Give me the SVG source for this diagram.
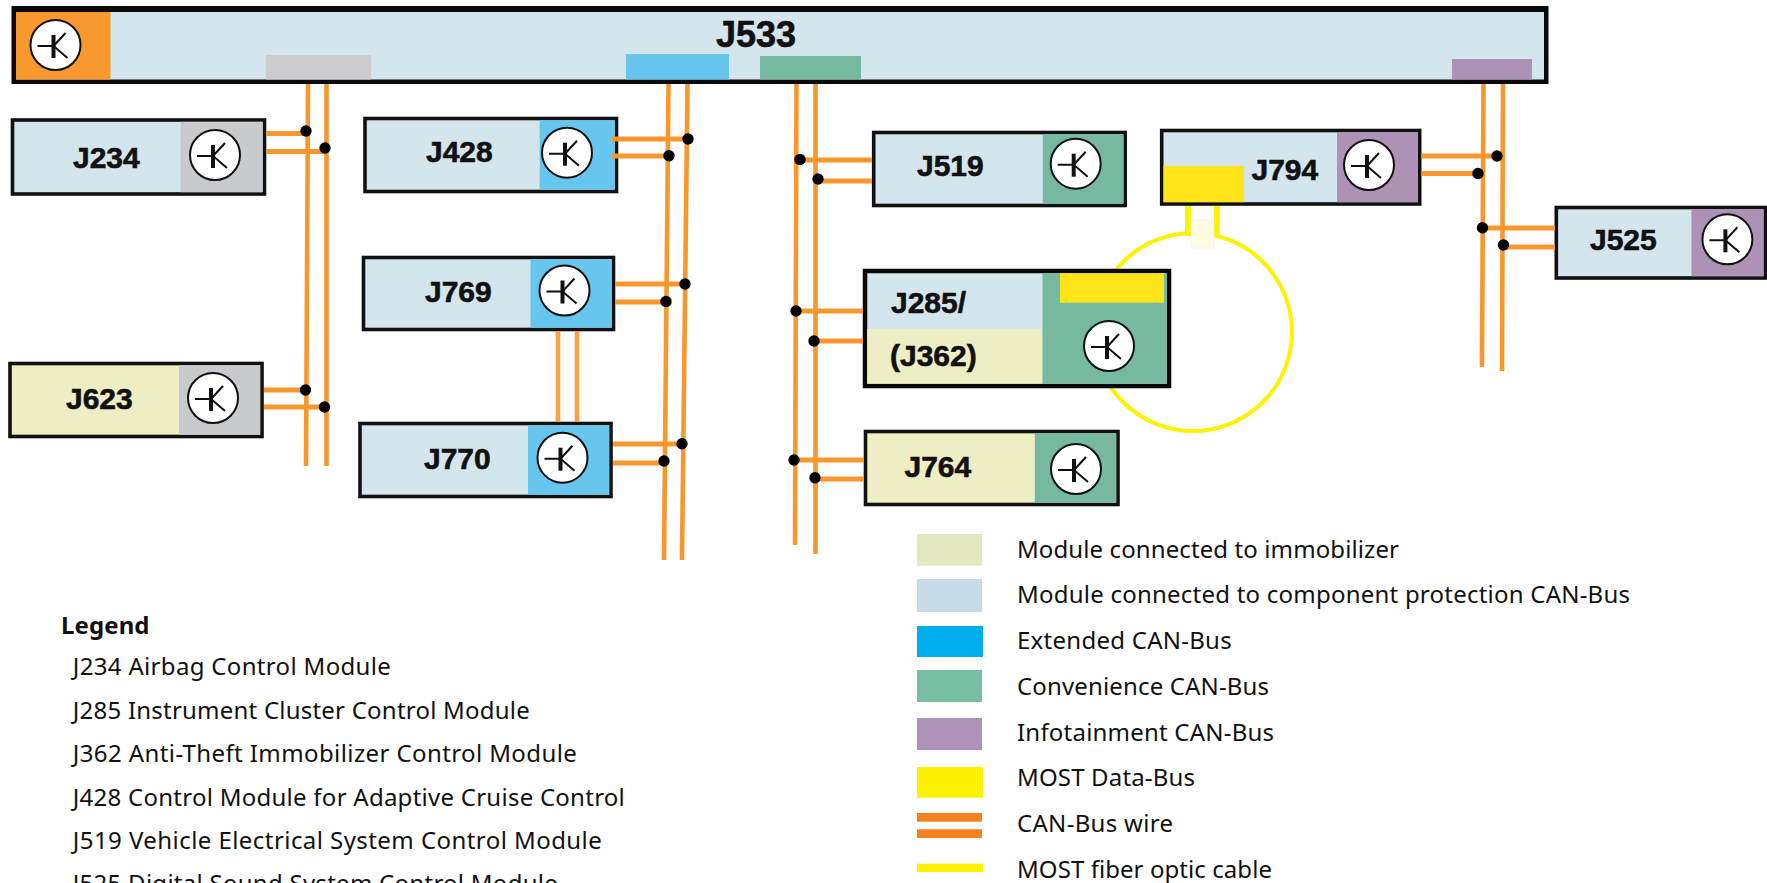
<svg xmlns="http://www.w3.org/2000/svg" width="1767" height="883" viewBox="0 0 1767 883">
<style>
.box{stroke:#111;stroke-width:3.6}
.prot{fill:#d4e5ee}
.imm{fill:#eeeec4}
.gray{fill:#c9cace}
.blue{fill:#67c6ee}
.green{fill:#76b8a0}
.purple{fill:#ad92b6}
.most{fill:#ffe419}
.wire{stroke:#f9972f;stroke-width:4.6;fill:none}
.stub{stroke:#f9972f;stroke-width:5;fill:none}
.lab{font-family:"Liberation Sans",Arial,sans-serif;font-weight:700;font-size:30px;fill:#111;stroke:#111;stroke-width:0.6}
.leg{font-family:"Noto Sans","Open Sans",sans-serif;font-size:24px;fill:#111}
</style>
<defs>
<g id="sym">
<circle r="25" fill="#fff" stroke="#111" stroke-width="2"/>
<path d="M-18 1H-2M10 -12L-2 1L12 13" fill="none" stroke="#111" stroke-width="2"/>
<path d="M-2 -10V13" fill="none" stroke="#111" stroke-width="4"/>
</g>
</defs>
<rect width="1767" height="883" fill="#fff"/>
<g id="fiber-ring">
<circle cx="1193" cy="332" r="99" fill="none" stroke="#fff200" stroke-width="4"/>
<path d="M1188 205V236M1216.700 205V236" fill="none" stroke="#fff200" stroke-width="6"/>
<rect x="1191" y="206" width="23" height="14" fill="#fff"/>
<rect x="1191" y="220" width="23" height="28" fill="#fffbe2" stroke="#eee" stroke-width="0.6"/>
</g>
<g id="J533">
<rect x="11.500" y="6" width="1537" height="78" fill="#0a0a0a"/>
<rect x="16" y="12" width="1528" height="67.500" class="prot"/>
<rect x="16" y="12" width="94.500" height="67.500" fill="#f8982e"/>
<rect x="266" y="55" width="105" height="24.500" fill="#cdcdcf"/>
<rect x="626" y="54" width="103" height="25.500" class="blue"/>
<rect x="760" y="56" width="101" height="23.500" class="green"/>
<rect x="1452" y="59" width="80" height="20.500" class="purple"/>
<use href="#sym" x="55.500" y="45"/>
<text class="lab" x="716" y="47" style="font-size:36px">J533</text>
</g>
<g id="J234">
<rect x="12.500" y="120" width="252" height="74" class="prot box"/>
<rect x="180.600" y="121.800" width="82" height="70.400" class="gray"/>
<use href="#sym" x="215" y="155"/>
<text class="lab" x="73" y="168">J234</text>
</g>
<g id="J428">
<rect x="365" y="118.500" width="251.500" height="73" class="prot box"/>
<rect x="539.600" y="120.300" width="75" height="69.400" class="blue"/>
<use href="#sym" x="567" y="152.700"/>
<text class="lab" x="426" y="161.700">J428</text>
</g>
<g id="J769">
<rect x="363.500" y="257.500" width="250" height="72" class="prot box"/>
<rect x="530.500" y="259.300" width="81.200" height="68.400" class="blue"/>
<use href="#sym" x="564.500" y="290.500"/>
<text class="lab" x="425" y="302">J769</text>
</g>
<g id="J770">
<rect x="360" y="423.500" width="251" height="73" class="prot box"/>
<rect x="528" y="425.300" width="81.200" height="69.400" class="blue"/>
<use href="#sym" x="562.500" y="457.700"/>
<text class="lab" x="424" y="469">J770</text>
</g>
<g id="J623">
<rect x="10" y="363.500" width="252" height="73" class="imm box"/>
<rect x="179" y="365.300" width="81.200" height="69.400" class="gray"/>
<use href="#sym" x="213" y="398"/>
<text class="lab" x="66" y="409">J623</text>
</g>
<g id="J519">
<rect x="873.700" y="132.500" width="251.500" height="73" class="prot box"/>
<rect x="1042.800" y="134.300" width="80.600" height="69.400" class="green"/>
<use href="#sym" x="1075.700" y="163.700"/>
<text class="lab" x="917" y="176">J519</text>
</g>
<g id="J794">
<rect x="1161.700" y="130.500" width="258" height="73.500" class="prot box"/>
<rect x="1337" y="132.300" width="80.900" height="69.900" class="purple"/>
<rect x="1163.500" y="166" width="80.500" height="36.200" class="most"/>
<use href="#sym" x="1369" y="165"/>
<text class="lab" x="1251.500" y="180">J794</text>
</g>
<g id="J525">
<rect x="1556.300" y="207.500" width="209" height="70.500" class="prot box"/>
<rect x="1691.500" y="209.300" width="72" height="66.900" class="purple"/>
<use href="#sym" x="1727.400" y="239.300"/>
<text class="lab" x="1590" y="249.500">J525</text>
</g>
<g id="J285">
<rect x="865" y="271" width="304" height="115" class="prot" stroke="#0a0a0a" stroke-width="4.500"/>
<rect x="867.200" y="329" width="175.300" height="54.700" class="imm"/>
<rect x="1042.500" y="273.200" width="124.300" height="110.500" class="green"/>
<rect x="1060" y="273.200" width="104" height="29.500" class="most"/>
<use href="#sym" x="1109" y="346"/>
<text class="lab" x="891" y="312.700">J285/</text>
<text class="lab" x="890" y="366">(J362)</text>
</g>
<g id="J764">
<rect x="865.500" y="431.500" width="252.500" height="73" class="imm box"/>
<rect x="1034.800" y="433.300" width="81.400" height="69.400" class="green"/>
<use href="#sym" x="1076" y="469"/>
<text class="lab" x="904.500" y="476.700">J764</text>
</g>
<g id="connectors">
<path class="wire" d="M308 84L306 466M326.500 84V466M668.500 84L664 560M687.500 84L682 560M796.500 84L795 545M815.500 84V554M1483.500 84L1482 367M1503 84L1502 371"/>
<path class="wire" d="M558 331V422M577 331V422" stroke-opacity="0.9"/>
<path class="stub" d="M266 133.500H306M266 151.500H326M264 390H305M264 407H325M612 139H688M612 156H669M615 284H685M615 302H666M613 444H682M613 463H664M799 160H872M818 181H872M796 311H863M814 341H863M794 460H864M815 479H864M1421.500 156H1497M1421.500 173.500H1478M1482 228H1555M1503 247H1555"/>
<g fill="#000">
<circle cx="306" cy="131" r="5.700"/><circle cx="325" cy="148" r="5.700"/>
<circle cx="305.500" cy="390" r="5.700"/><circle cx="324.500" cy="407" r="5.700"/>
<circle cx="688" cy="139" r="5.700"/><circle cx="669" cy="155.700" r="5.700"/>
<circle cx="685" cy="284" r="5.700"/><circle cx="666" cy="301.500" r="5.700"/>
<circle cx="682" cy="443.700" r="5.700"/><circle cx="664" cy="461" r="5.700"/>
<circle cx="800" cy="159.500" r="5.700"/><circle cx="818" cy="179" r="5.700"/>
<circle cx="796" cy="311" r="5.700"/><circle cx="814" cy="341" r="5.700"/>
<circle cx="794" cy="460" r="5.700"/><circle cx="815" cy="477.700" r="5.700"/>
<circle cx="1497" cy="156" r="5.700"/><circle cx="1478" cy="173.500" r="5.700"/>
<circle cx="1482.500" cy="227.700" r="5.700"/><circle cx="1503.500" cy="245" r="5.700"/>
</g>
</g>
<g id="legend-list">
<text class="leg" x="61" y="634.300" style="font-weight:700" textLength="88.500">Legend</text>
<text class="leg" x="72.800" y="675" textLength="318">J234 Airbag Control Module</text>
<text class="leg" x="72.800" y="719" textLength="457">J285 Instrument Cluster Control Module</text>
<text class="leg" x="72.800" y="762.300" textLength="504">J362 Anti-Theft Immobilizer Control Module</text>
<text class="leg" x="72.800" y="805.700" textLength="552">J428 Control Module for Adaptive Cruise Control</text>
<text class="leg" x="72.800" y="849" textLength="529">J519 Vehicle Electrical System Control Module</text>
<text class="leg" x="72.800" y="892" textLength="485">J525 Digital Sound System Control Module</text>
</g>
<g id="legend-key">
<rect x="917" y="534" width="65" height="31.700" fill="#e3e8c0"/>
<rect x="917" y="579" width="65" height="33" fill="#c8dce8"/>
<rect x="917" y="626" width="66" height="31" fill="#00aeef"/>
<rect x="917" y="670" width="65" height="32" fill="#76bfa4"/>
<rect x="917" y="718" width="65" height="32" fill="#ae92b8"/>
<rect x="917" y="767" width="66" height="30.700" fill="#fff200"/>
<rect x="917" y="813" width="65" height="8.700" fill="#f58220"/>
<rect x="917" y="829.300" width="65" height="8.700" fill="#f58220"/>
<rect x="917" y="863.700" width="66" height="8.300" fill="#fff200"/>
<text class="leg" x="1017" y="558.300" textLength="382">Module connected to immobilizer</text>
<text class="leg" x="1017" y="603.300" textLength="613">Module connected to component protection CAN-Bus</text>
<text class="leg" x="1017" y="649" textLength="214.700">Extended CAN-Bus</text>
<text class="leg" x="1017" y="695" textLength="252">Convenience CAN-Bus</text>
<text class="leg" x="1017" y="741" textLength="257">Infotainment CAN-Bus</text>
<text class="leg" x="1017" y="786" textLength="178">MOST Data-Bus</text>
<text class="leg" x="1017" y="831.700" textLength="156">CAN-Bus wire</text>
<text class="leg" x="1017" y="877.700" textLength="255">MOST fiber optic cable</text>
</g>
</svg>
